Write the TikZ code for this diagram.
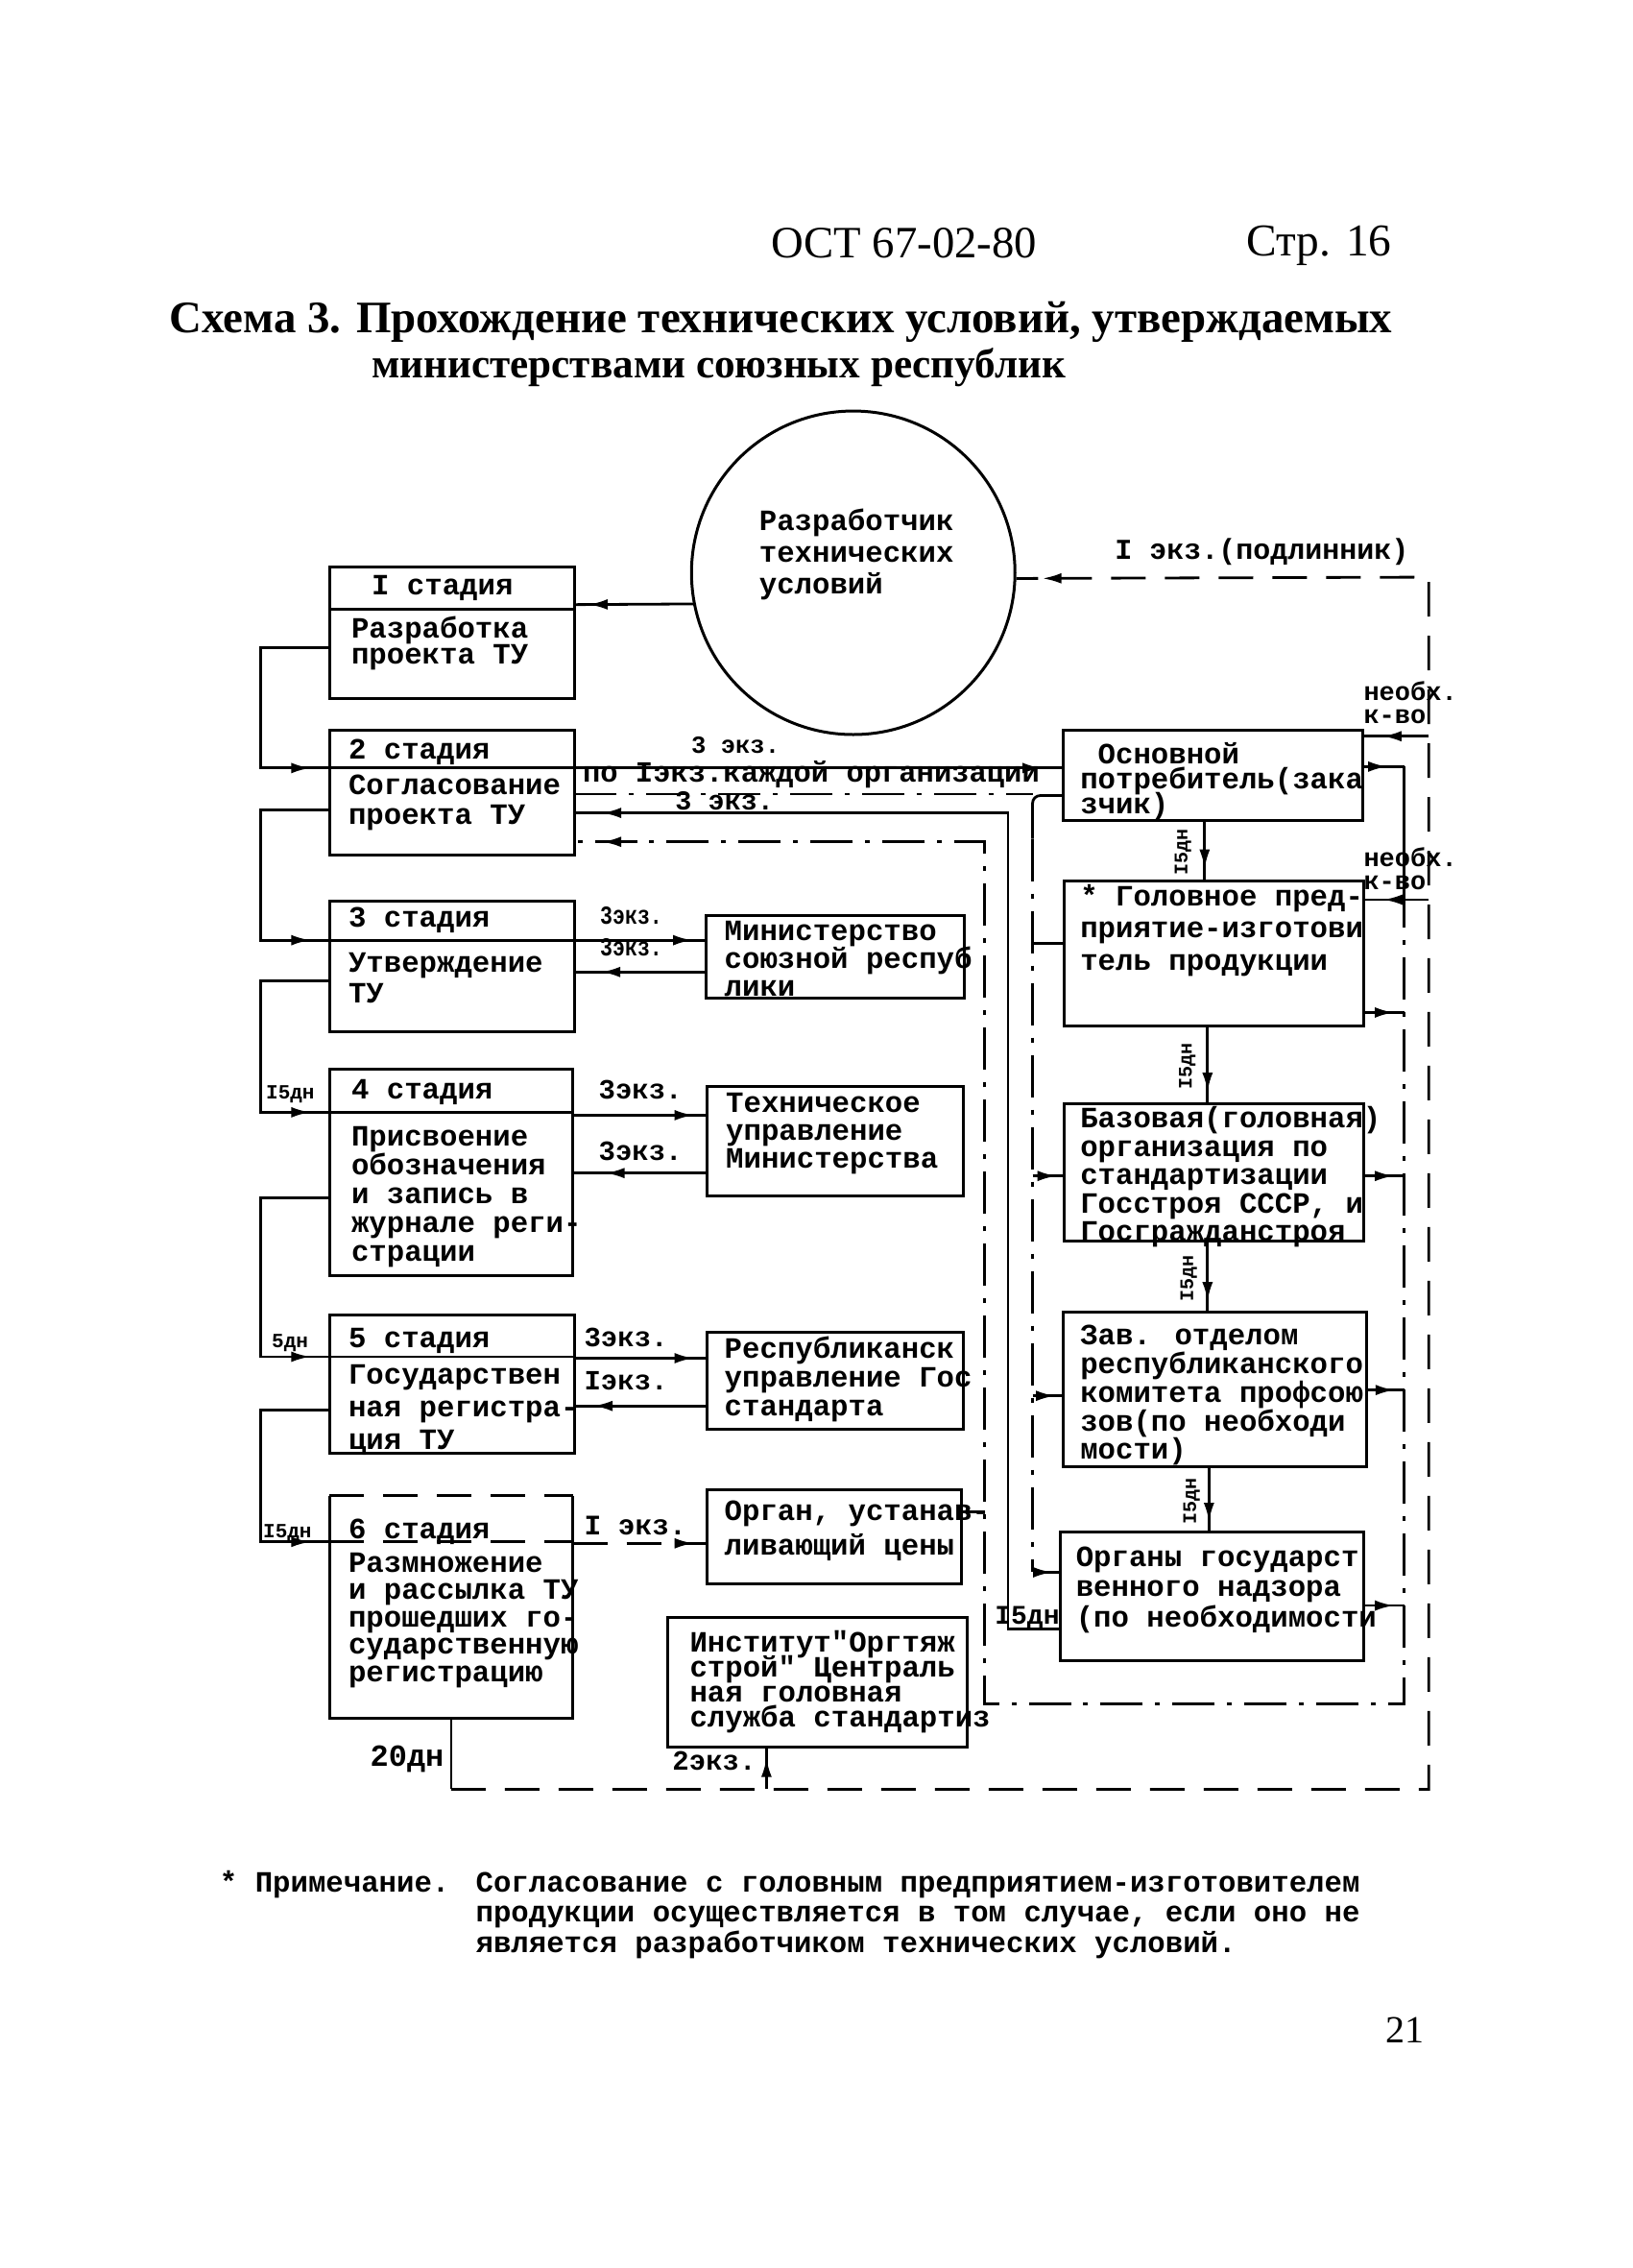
\documentclass[tikz,border=0pt]{standalone}
\usepackage{fontspec}
\usepackage{graphicx}
\setmainfont{Liberation Serif}
\newfontfamily\tw{Liberation Mono}
\usetikzlibrary{fit,decorations.markings,arrows.meta}
\newcommand\blk[2]{\vtop{\baselineskip=#1\relax\lineskiplimit=-\maxdimen\lineskip=0pt\relax #2}}
\newcommand\Ln[1]{\hbox{#1}}
\newcommand\fsz[1]{\fontsize{#1}{#1}\selectfont}
\begin{document}
\begin{tikzpicture}[
  x=1.5066pt, y=-1.5066pt,
  bx/.style={draw, line width=3pt, inner sep=0pt, outer sep=0pt},
  ln/.style={line width=2.8pt},
  dsh/.style={line width=2.8pt, dash pattern=on 36pt off 20pt},
  dd/.style={line width=2.8pt, dash pattern=on 44pt off 13pt on 5pt off 13pt},
  txt/.style={inner sep=0pt, outer sep=0pt, anchor=base west, font=\tw\bfseries\fsz{30.7pt}},
  lab/.style={inner sep=0pt, outer sep=0pt, anchor=base west, font=\tw\bfseries},
  ar/.style={postaction={decorate}, decoration={markings, mark=at position #1 with {\arrow{Latex[length=20pt,width=11pt]}}}},
]
\fill[white] (0,0) rectangle (1129,1568);
\useasboundingbox (0,0) rectangle (1129,1568);

% header and title
\node[inner sep=0pt, anchor=base west] (hdr) at (533,178) {\resizebox{277pt}{!}{\fsz{46pt}ОСТ 67-02-80}};
\node[inner sep=0pt, anchor=base west] (pg) at (862,177) {\resizebox{151pt}{!}{\fsz{46pt}Стр. 16}};
\node[inner sep=0pt, anchor=base west] (ttl1) at (117,230) {\resizebox{1274pt}{!}{\fsz{44pt}\bfseries Схема 3. Прохождение технических условий, утверждаемых}};
\node[inner sep=0pt, anchor=base west] (ttl2) at (257,261) {\resizebox{723pt}{!}{\fsz{44pt}\bfseries министерствами союзных республик}};

% developer circle
\node[draw, circle, line width=3pt, minimum size=337pt, inner sep=0pt] (dev) at (590,396) {};
\node[txt] (devt) at (525,367) {\blk{33pt}{\Ln{Разработчик}\Ln{технических}\Ln{условий}}};

% stage boxes
\node[bx, fit={(228,392)(397,483)}] (b1) {};
\node[bx, fit={(228,505)(397,591)}] (b2) {};
\node[bx, fit={(228,623)(397,713)}] (b3) {};
\node[bx, fit={(228,739)(396,882)}] (b4) {};
\node[bx, fit={(228,909)(397,1005)}] (b5) {};
\node[inner sep=0pt, outer sep=0pt, fit={(228,1034)(396,1188)}] (b6) {};
\draw[line width=3pt] (b6.north west) -- (b6.south west) -- (b6.south east) -- (b6.north east);
\draw[dsh, line width=3pt] (b6.north west) -- (b6.north east);

\draw[ln] (b1.west |- 0,421) -- (b1.east |- 0,421);
\draw[ln] (b2.west |- 0,531) -- (b2.east |- 0,531);
\draw[ln] (b3.west |- 0,650) -- (b3.east |- 0,650);
\draw[ln] (b4.west |- 0,769) -- (b4.east |- 0,769);
\draw[ln] (b5.west |- 0,938) -- (b5.east |- 0,938);
\draw[dsh] (b6.west |- 0,1066) -- (b6.east |- 0,1066);

\node[txt] (h1) at (257,411) {I стадия};
\node[txt] (t1) at (243,441) {\blk{27pt}{\Ln{Разработка}\Ln{проекта ТУ}}};
\node[txt] (h2) at (241,525) {2 стадия};
\node[txt] (t2) at (241,549) {\blk{31.5pt}{\Ln{Согласование}\Ln{проекта ТУ}}};
\node[txt] (h3) at (241,641) {3 стадия};
\node[txt] (t3) at (241,672) {\blk{32pt}{\Ln{Утверждение}\Ln{ТУ}}};
\node[txt] (h4) at (243,760) {4 стадия};
\node[txt] (t4) at (243,792) {\blk{30pt}{\Ln{Присвоение}\Ln{обозначения}\Ln{и запись в}\Ln{журнале реги-}\Ln{страции}}};
\node[txt] (h5) at (241,932) {5 стадия};
\node[txt] (t5) at (241,957) {\blk{34pt}{\Ln{Государствен}\Ln{ная регистра-}\Ln{ция ТУ}}};
\node[txt] (h6) at (241,1064) {6 стадия};
\node[txt] (t6) at (241,1087) {\blk{28.5pt}{\Ln{Размножение}\Ln{и рассылка ТУ}\Ln{прошедших го-}\Ln{сударственную}\Ln{регистрацию}}};

% middle boxes
\node[bx, fit={(488,633)(667,690)}] (min) {};
\node[txt] (tmin) at (501,650) {\blk{29pt}{\Ln{Министерство}\Ln{союзной респуб}\Ln{лики}}};
\node[bx, fit={(489,751)(666,827)}] (tech) {};
\node[txt] (ttech) at (502,769) {\blk{29pt}{\Ln{Техническое}\Ln{управление}\Ln{Министерства}}};
\node[bx, fit={(489,921)(666,988)}] (resp) {};
\node[txt] (tresp) at (501,939) {\blk{30pt}{\Ln{Республиканск}\Ln{управление Гос}\Ln{стандарта}}};
\node[bx, fit={(489,1030)(665,1095)}] (organ) {};
\node[txt] (torgan) at (501,1051) {\blk{36pt}{\Ln{Орган, устанав-}\Ln{ливающий цены}}};
\node[bx, fit={(462,1118)(669,1208)}] (inst) {};
\node[txt] (tinst) at (477,1142) {\blk{26pt}{\Ln{Институт"Оргтяж}\Ln{строй" Централь}\Ln{ная головная}\Ln{служба стандартиз}}};

% right boxes
\node[bx, fit={(735,505)(942,567)}] (osn) {};
\node[txt] (tosn) at (747,528) {\blk{26pt}{\Ln{~Основной}\Ln{потребитель(зака}\Ln{зчик)}}};
\node[bx, fit={(736,609)(943,709)}] (gol) {};
\node[txt] (tgol) at (747,626) {\blk{34pt}{\Ln{* Головное пред-}\Ln{приятие-изготови}\Ln{тель продукции}}};
\node[bx, fit={(736,763)(943,858)}] (baz) {};
\node[txt] (tbaz) at (747,780) {\blk{29.5pt}{\Ln{Базовая(головная)}\Ln{организация по}\Ln{стандартизации}\Ln{Госстроя СССР, и}\Ln{Госгражданстроя}}};
\node[bx, fit={(735,907)(945,1014)}] (zav) {};
\node[txt] (tzav) at (747,930) {\blk{29.7pt}{\Ln{Зав. отделом}\Ln{республиканского}\Ln{комитета профсою}\Ln{зов(по необходи}\Ln{мости)}}};
\node[bx, fit={(733,1059)(943,1148)}] (org) {};
\node[txt] (torg) at (744,1083) {\blk{31.5pt}{\Ln{Органы государст}\Ln{венного надзора}\Ln{(по необходимости}}};

% circle -> stage 1
\draw[ln, ar=0.88] (dev.191) -- (b1.east |- 0,418);

% left chain of stages
\draw[ln, ar=-20pt] (b1.west |- 0,448) -- (180,448) -- (180,531) -- (b2.west |- 0,531);
\draw[ln, ar=-20pt] (b2.west |- 0,560) -- (180,560) -- (180,650) -- (b3.west |- 0,650);
\draw[ln, ar=-20pt] (b3.west |- 0,678) -- (180,678) -- (180,769) -- (b4.west |- 0,769);
\draw[ln, ar=-20pt] (b4.west |- 0,828) -- (180,828) -- (180,938) -- (b5.west |- 0,938);
\draw[ln, ar=-20pt] (b5.west |- 0,975) -- (180,975) -- (180,1066) -- (b6.west |- 0,1066);

% stage 2 -> organisations
\draw[ln, ar=-22pt] (b2.east |- 0,531) -- (osn.west |- 0,531);
\draw[dd] (b2.east |- 0,549) -- (714,549);
\draw[ln, rounded corners=8pt] (osn.west |- 0,550) -- (714,550) -- (714,580);
\draw[dd] (714,580) -- (714,1087);
\draw[ln] (714,652) -- (gol.west |- 0,652);
\draw[ln, ar=-8pt] (714,813) -- (baz.west |- 0,813);
\draw[ln, ar=-8pt] (714,965) -- (zav.west |- 0,965);
\draw[ln, ar=-8pt] (714,1087) -- (org.west |- 0,1087);

% returns to stage 2
\draw[ln, ar=-29pt] (org.west |- 0,1126) -- (697,1126) -- (697,562) -- (b2.east |- 0,562);
\draw[ln, ar=0.6] (osn.east |- 0,530) -- (971,530);
\draw[ln] (971,530) -- (971,612);
\draw[dd, ar=-29pt] (971,612) -- (971,1178) -- (681,1178) -- (681,582) -- (b2.east |- 0,582);
\draw[ln, ar=0.75] (gol.east |- 0,700) -- (971,700);
\draw[ln, ar=0.75] (baz.east |- 0,813) -- (971,813);
\draw[ln, ar=0.75] (zav.east |- 0,961) -- (971,961);
\draw[ln, ar=0.75] (org.east |- 0,1110) -- (971,1110);
\draw[ln] (organ.east |- 0,1045) -- (681,1045);

% chain of right organisations
\draw[ln, ar=0.8] (osn.south -| 833,0) -- (gol.north -| 833,0);
\draw[ln, ar=0.85] (gol.south -| 835,0) -- (baz.north -| 835,0);
\draw[ln, ar=0.85] (baz.south -| 835,0) -- (zav.north -| 835,0);
\draw[ln, ar=0.85] (zav.south -| 836,0) -- (org.north -| 836,0);

% stages 3-6 -> middle organisations
\draw[ln, ar=-14pt] (b3.east |- 0,650) -- (min.west |- 0,650);
\draw[ln, ar=-28pt] (min.west |- 0,672) -- (b3.east |- 0,672);
\draw[ln, ar=-14pt] (b4.east |- 0,771) -- (tech.west |- 0,771);
\draw[ln, ar=-34pt] (tech.west |- 0,811) -- (b4.east |- 0,811);
\draw[ln, ar=-14pt] (b5.east |- 0,939) -- (resp.west |- 0,939);
\draw[ln, ar=-20pt] (resp.west |- 0,972) -- (b5.east |- 0,972);
\draw[dsh, ar=-14pt] (b6.east |- 0,1067) -- (organ.west |- 0,1067);

% outer dashed loop
\draw[ln] (b6.south -| 312,0) -- (312,1237);
\draw[dsh, ar=-27pt] (312,1237) -- (988,1237) -- (988,399) -- (dev.358);
\draw[ln, ar=0.75] (530,1237) -- (inst.south -| 530,0);
\draw[ln, ar=0.7] (988,509) -- (osn.east |- 0,509);
\draw[ln, ar=0.7] (988,622) -- (gol.east |- 0,622);

% labels
\node[lab] (l3a) at (478,521) {\fsz{25.6pt}3 экз.};
\node[lab] (l1e) at (403,541) {\fsz{30.5pt}по Iэкз.каждой организации};
\node[lab] (l3b) at (467,560) {\fsz{28.5pt}3 экз.};
\node[lab] (l3c) at (415,639) {\scalebox{0.8}[1]{\fsz{27pt}3экз.}};
\node[lab] (l3d) at (415,661) {\scalebox{0.8}[1]{\fsz{27pt}3экз.}};
\node[lab] (l4a) at (414,760) {\fsz{29pt}3экз.};
\node[lab] (l4b) at (414,802) {\fsz{29pt}3экз.};
\node[lab] (l5a) at (404,931) {\fsz{29pt}3экз.};
\node[lab] (l5b) at (404,961) {\fsz{29pt}Iэкз.};
\node[lab] (l6a) at (404,1061) {\fsz{29.5pt}I экз.};
\node[lab] (lpod) at (771,387) {\fsz{30pt}I экз.(подлинник)};
\node[lab] (ln1) at (943,484) {\fsz{27pt}необх.};
\node[lab] (ln2) at (943,500) {\fsz{27pt}к-во};
\node[lab] (ln3) at (943,599) {\fsz{27pt}необх.};
\node[lab] (ln4) at (943,615) {\fsz{27pt}к-во};
\node[lab] (l20) at (256,1221) {\fsz{32pt}20дн};
\node[lab] (l2e) at (465,1224) {\fsz{29pt}2экз.};
\node[lab] (l15o) at (688,1123) {\fsz{28pt}I5дн};
\node[lab] (l15a) at (184,760) {\fsz{21pt}I5дн};
\node[lab] (l5d) at (188,932) {\fsz{21pt}5дн};
\node[lab] (l15b) at (182,1063) {\fsz{21pt}I5дн};
\node[lab, anchor=center, rotate=90] (r1) at (818,589) {\fsz{20pt}I5дн};
\node[lab, anchor=center, rotate=90] (r2) at (821,737) {\fsz{20pt}I5дн};
\node[lab, anchor=center, rotate=90] (r3) at (822,884) {\fsz{20pt}I5дн};
\node[lab, anchor=center, rotate=90] (r4) at (824,1038) {\fsz{20pt}I5дн};

% note
\node[lab] (nt0) at (152,1308) {\fsz{30.7pt}* Примечание.};
\node[lab] (nt) at (329,1308) {\fsz{30.7pt}\blk{31.5pt}{\Ln{Согласование с головным предприятием-изготовителем}\Ln{продукции осуществляется в том случае, если оно не}\Ln{является разработчиком технических условий.}}};
\node[inner sep=0pt, anchor=base west] (pnum) at (958,1412) {\fsz{40pt}21};
\end{tikzpicture}
\end{document}
